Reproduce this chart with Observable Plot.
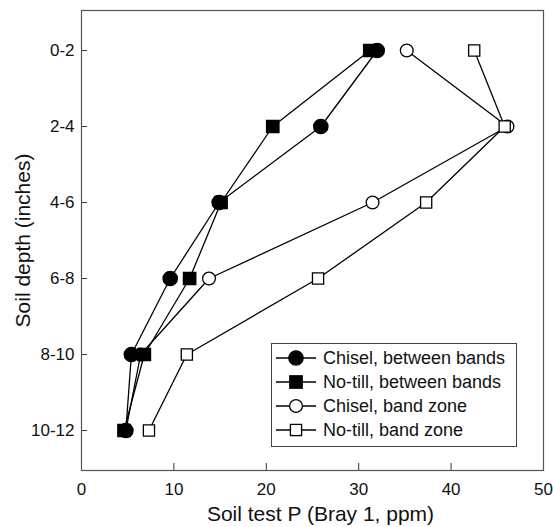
<!DOCTYPE html>
<html>
<head>
<meta charset="utf-8">
<script src="https://cdn.jsdelivr.net/npm/d3@7"></script>
<script src="https://cdn.jsdelivr.net/npm/@observablehq/plot@0.6"></script>
<style>
  html, body { margin: 0; padding: 0; background: #fff; }
  #chart { position: relative; width: 553px; height: 527px; font-family: "Liberation Sans", Arial, sans-serif; }
  #legend { position: absolute; border: 1px solid #444; background: #fff; box-sizing: border-box; }
  #legend .row { display: flex; align-items: center; height: 24px; font-size: 18px; color: #111; }
  #legend svg { display: block; flex: none; }
</style>
</head>
<body>
<div id="chart"></div>
<script>
// Soil depth increments (top to bottom)
const depths = ["0-2", "2-4", "4-6", "6-8", "8-10", "10-12"];

// Soil test P (Bray 1, ppm) at each depth
const chiselBetween = [32.0, 25.9, 14.9, 9.6, 5.4, 4.8];
const noTillBetween = [31.2, 20.7, 15.1, 11.7, 6.8, 4.6];
const chiselBand = [35.2, 46.1, 31.5, 13.8, 6.4, 4.8];
const noTillBand = [42.5, 45.8, 37.3, 25.6, 11.4, 7.3];

const xTicks = [0, 10, 20, 30, 40, 50];

const seriesNames = [
  "Chisel, between bands",
  "No-till, between bands",
  "Chisel, band zone",
  "No-till, band zone"
];
const seriesValues = [chiselBetween, noTillBetween, chiselBand, noTillBand];

// Marker appearance per series
const styles = {
  "Chisel, between bands": {symbol: "circle", fill: "black", r: 7.2},
  "No-till, between bands": {symbol: "square", fill: "black", r: 7},
  "Chisel, band zone": {symbol: "circle", fill: "white", r: 6.4},
  "No-till, band zone": {symbol: "square", fill: "white", r: 6.3}
};

const rows = seriesNames.flatMap((name, i) =>
  depths.map((d, j) => ({series: name, depth: d, p: seriesValues[i][j]}))
);

// Markers of open series sit beneath the filled ones
const drawOrder = [
  "Chisel, band zone",
  "No-till, band zone",
  "No-till, between bands",
  "Chisel, between bands"
];

const font = "'Liberation Sans', Arial, sans-serif";
const blank = () => "";

const plot = Plot.plot({
  width: 553,
  height: 527,
  marginLeft: 81,
  marginRight: 10,
  marginTop: 10,
  marginBottom: 57,
  style: {fontFamily: font, fontSize: "17px", color: "#111", background: "white"},
  x: {domain: [0, 50]},
  y: {type: "point", domain: depths, padding: 0.5},
  marks: [
    // inward tick marks
    Plot.axisX({ticks: xTicks, tickSize: -7, tickFormat: blank, label: null, stroke: "#333"}),
    Plot.axisY({tickSize: -6, tickFormat: blank, label: null, stroke: "#333"}),
    // tick labels and titles
    Plot.axisX({
      ticks: xTicks, tickSize: 0, tickPadding: 12, label: "Soil test P (Bray 1, ppm)",
      labelAnchor: "center", labelArrow: "none", labelOffset: 50, fontSize: 17
    }),
    Plot.axisY({
      tickSize: 0, tickPadding: 7, label: "Soil depth (inches)",
      labelAnchor: "center", labelArrow: "none", labelOffset: 66, fontSize: 17
    }),
    Plot.frame({stroke: "#555", strokeWidth: 1.2}),
    Plot.line(rows, {x: "p", y: "depth", z: "series", stroke: "black", strokeWidth: 1.3}),
    ...drawOrder.map(name =>
      Plot.dot(rows.filter(d => d.series === name), {
        x: "p", y: "depth",
        symbol: styles[name].symbol,
        r: styles[name].r,
        fill: styles[name].fill,
        stroke: "black",
        strokeWidth: 1.3
      })
    )
  ]
});

// axis titles a little larger than the tick labels
plot.querySelectorAll("[aria-label='x-axis label'] text")
  .forEach(t => { t.setAttribute("font-size", "21px"); t.setAttribute("dx", "8"); });
plot.querySelectorAll("[aria-label='y-axis label'] text")
  .forEach(t => t.setAttribute("font-size", "21px"));

const chart = document.getElementById("chart");
chart.appendChild(plot);

// Legend box drawn inside the plot area
const legend = document.createElement("div");
legend.id = "legend";
legend.style.left = "271px";
legend.style.top = "343px";
legend.style.width = "246px";
legend.style.height = "104px";
legend.style.padding = "2px 0 0 3px";
seriesNames.forEach(name => {
  const s = styles[name];
  const row = document.createElement("div");
  row.className = "row";
  const sym = d3.create("svg").attr("width", 48).attr("height", 24);
  sym.append("line").attr("x1", 1).attr("x2", 41).attr("y1", 12).attr("y2", 12)
    .attr("stroke", "black").attr("stroke-width", 1.3);
  if (s.symbol === "circle") {
    sym.append("circle").attr("cx", 21).attr("cy", 12).attr("r", s.r)
      .attr("fill", s.fill).attr("stroke", "black").attr("stroke-width", 1.3);
  } else {
    const side = s.r * Math.sqrt(Math.PI);
    sym.append("rect").attr("x", 21 - side / 2).attr("y", 12 - side / 2)
      .attr("width", side).attr("height", side)
      .attr("fill", s.fill).attr("stroke", "black").attr("stroke-width", 1.3);
  }
  row.appendChild(sym.node());
  const label = document.createElement("span");
  label.textContent = name;
  row.appendChild(label);
  legend.appendChild(row);
});
chart.appendChild(legend);
</script>
</body>
</html>
